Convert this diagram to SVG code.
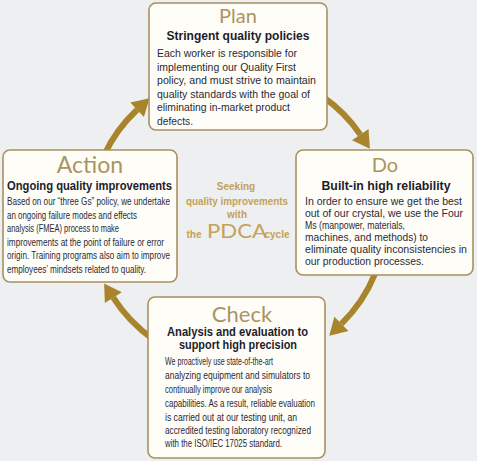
<svg xmlns="http://www.w3.org/2000/svg" width="477" height="461" viewBox="0 0 477 461">
<defs>
<marker id="ah" markerUnits="userSpaceOnUse" markerWidth="24" markerHeight="24" viewBox="0 -12 18 24" refX="0" refY="0" orient="auto">
<path d="M0,-10 L17,0 L0,10 z" fill="#a8842c"/>
</marker>
<style>
.box{fill:#fffdf7;stroke:#a89060;stroke-width:1.6}
.title{font-family:Lato,"Open Sans","DejaVu Sans",sans-serif;font-weight:normal;fill:#ab9462;text-anchor:middle}
.sub{font-family:"Liberation Sans",Arial,sans-serif;font-weight:bold;font-size:12.5px;fill:#1c1c2c;text-anchor:middle}
.body{font-family:"Liberation Sans",Arial,sans-serif;font-size:11px;fill:#2a2a36}
.ctr{font-family:"Liberation Sans",Arial,sans-serif;font-weight:bold;fill:#c2a25a;text-anchor:middle}
.arc{fill:none;stroke:#a8842c;stroke-width:6;marker-end:url(#ah)}
</style>
</defs>
<rect width="477" height="461" fill="#eeeff0"/>
<g id="connectors">
<path class="arc" d="M103.9,155.5 A148,148 0 0 1 137.1,109.8"/>
<path class="arc" d="M322.9,96.8 A148,148 0 0 1 360.3,134.6"/>
<path class="arc" d="M375.2,273.4 A148,148 0 0 1 341.4,323.9"/>
<path class="arc" d="M153.1,339.2 A148,148 0 0 1 113.3,297.7"/>
</g>
<g id="plan">
<rect class="box" x="149" y="3" width="178" height="127" rx="7"/>
<text class="title" x="238" y="23" font-size="20">Plan</text>
<text class="sub" x="238" y="40" textLength="143" lengthAdjust="spacingAndGlyphs">Stringent quality policies</text>
<text class="body" x="157" y="57" textLength="140" lengthAdjust="spacingAndGlyphs">Each worker is responsible for</text>
<text class="body" x="157" y="70.5" textLength="139" lengthAdjust="spacingAndGlyphs">implementing our Quality First</text>
<text class="body" x="157" y="84" textLength="159" lengthAdjust="spacingAndGlyphs">policy, and must strive to maintain</text>
<text class="body" x="157" y="97.5" textLength="153" lengthAdjust="spacingAndGlyphs">quality standards with the goal of</text>
<text class="body" x="157" y="111" textLength="133" lengthAdjust="spacingAndGlyphs">eliminating in-market product</text>
<text class="body" x="157" y="124.5" textLength="36" lengthAdjust="spacingAndGlyphs">defects.</text>
</g>
<g id="do">
<rect class="box" x="296" y="150" width="177" height="125" rx="7"/>
<text class="title" x="385" y="172" font-size="20">Do</text>
<text class="sub" x="386" y="190" textLength="129" lengthAdjust="spacingAndGlyphs">Built-in high reliability</text>
<text class="body" x="305" y="205" textLength="157" lengthAdjust="spacingAndGlyphs">In order to ensure we get the best</text>
<text class="body" x="305" y="217" textLength="158" lengthAdjust="spacingAndGlyphs">out of our crystal, we use the Four</text>
<text class="body" x="305" y="229" textLength="100" lengthAdjust="spacingAndGlyphs">Ms (manpower, materials,</text>
<text class="body" x="305" y="241" textLength="123" lengthAdjust="spacingAndGlyphs">machines, and methods) to</text>
<text class="body" x="305" y="253" textLength="162" lengthAdjust="spacingAndGlyphs">eliminate quality inconsistencies in</text>
<text class="body" x="305" y="265" textLength="119" lengthAdjust="spacingAndGlyphs">our production processes.</text>
</g>
<g id="action">
<rect class="box" x="3" y="150" width="174" height="132" rx="7"/>
<text class="title" x="90" y="173" font-size="23">Action</text>
<text class="sub" x="89.5" y="190" textLength="165" lengthAdjust="spacingAndGlyphs">Ongoing quality improvements</text>
<text class="body" x="7" y="205" font-size="10" textLength="163" lengthAdjust="spacingAndGlyphs">Based on our “three Gs” policy, we undertake</text>
<text class="body" x="7" y="218.5" font-size="10" textLength="130" lengthAdjust="spacingAndGlyphs">an ongoing failure modes and effects</text>
<text class="body" x="7" y="232" font-size="10" textLength="112" lengthAdjust="spacingAndGlyphs">analysis (FMEA) process to make</text>
<text class="body" x="7" y="245.5" font-size="10" textLength="157" lengthAdjust="spacingAndGlyphs">improvements at the point of failure or error</text>
<text class="body" x="7" y="259" font-size="10" textLength="163" lengthAdjust="spacingAndGlyphs">origin. Training programs also aim to improve</text>
<text class="body" x="7" y="272.5" font-size="10" textLength="139" lengthAdjust="spacingAndGlyphs">employees’ mindsets related to quality.</text>
</g>
<g id="check">
<rect class="box" x="148" y="297" width="177" height="161" rx="7"/>
<text class="title" x="242" y="322" font-size="22">Check</text>
<text class="sub" x="237.5" y="336" textLength="141" lengthAdjust="spacingAndGlyphs">Analysis and evaluation to</text>
<text class="sub" x="238" y="349" textLength="118" lengthAdjust="spacingAndGlyphs">support high precision</text>
<text class="body" x="165" y="365" font-size="10" textLength="108" lengthAdjust="spacingAndGlyphs">We proactively use state-of-the-art</text>
<text class="body" x="165" y="379" font-size="10" textLength="145" lengthAdjust="spacingAndGlyphs">analyzing equipment and simulators to</text>
<text class="body" x="165" y="393" font-size="10" textLength="107" lengthAdjust="spacingAndGlyphs">continually improve our analysis</text>
<text class="body" x="165" y="407" font-size="10" textLength="150" lengthAdjust="spacingAndGlyphs">capabilities. As a result, reliable evaluation</text>
<text class="body" x="165" y="421" font-size="10" textLength="132" lengthAdjust="spacingAndGlyphs">is carried out at our testing unit, an</text>
<text class="body" x="165" y="434" font-size="10" textLength="146" lengthAdjust="spacingAndGlyphs">accredited testing laboratory  recognized</text>
<text class="body" x="165" y="447" font-size="10" textLength="117" lengthAdjust="spacingAndGlyphs">with the ISO/IEC 17025 standard.</text>
</g>
<g id="center">
<text class="ctr" x="236" y="190" font-size="10">Seeking</text>
<text class="ctr" x="237" y="205" font-size="10" textLength="102" lengthAdjust="spacingAndGlyphs">quality improvements</text>
<text class="ctr" x="237" y="218" font-size="10">with</text>
<text class="ctr" x="194" y="238" font-size="10">the</text>
<text x="237" y="238" font-family="Lato,'Open Sans','DejaVu Sans',sans-serif" font-size="19" fill="#c2a25a" text-anchor="middle" textLength="60" lengthAdjust="spacingAndGlyphs">PDCA</text>
<text class="ctr" x="277" y="238" font-size="10">cycle</text>
</g>
</svg>
